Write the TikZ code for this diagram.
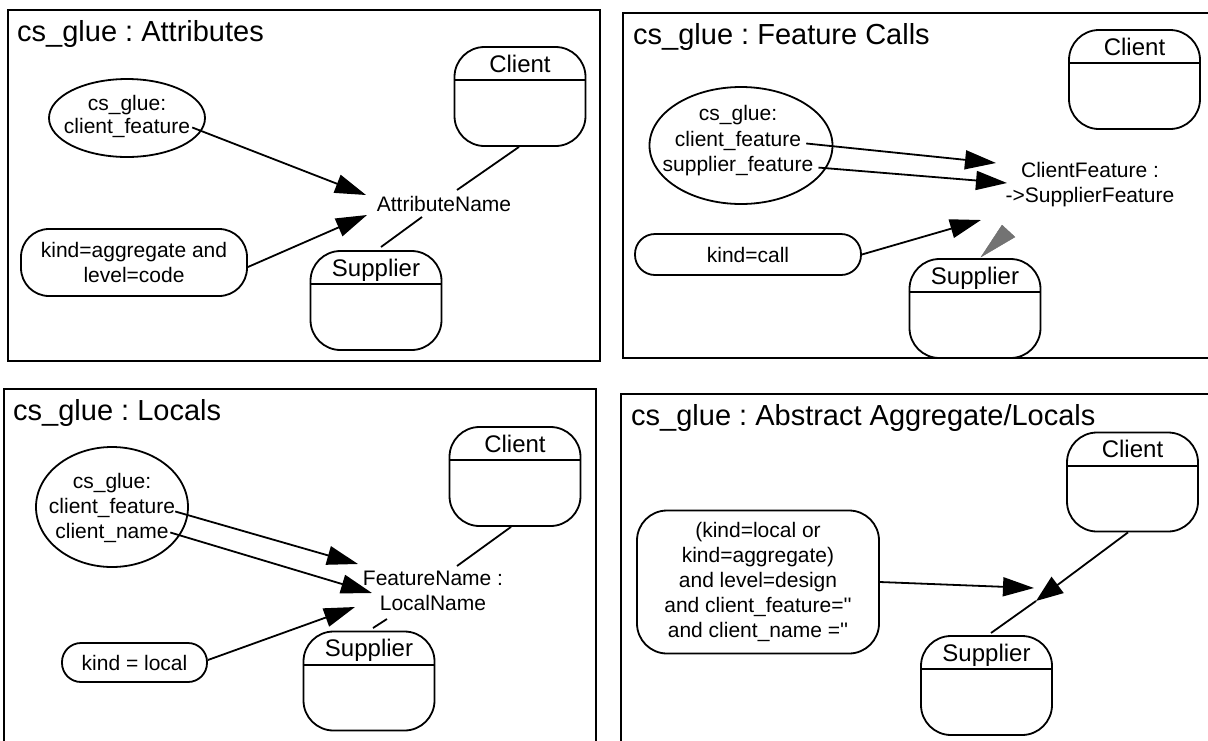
\documentclass[tikz,border=0pt]{standalone}
\usepackage{fontspec}
\setmainfont{Liberation Sans}
\usetikzlibrary{arrows.meta,shapes.geometric}
\tikzset{
  frame/.style={draw, line width=2pt},
  cls/.style={draw, line width=1.8pt, rounded corners=30pt, minimum width=131pt, minimum height=99pt, inner sep=0pt},
  divl/.style={line width=1.8pt},
  clsname/.style={inner sep=0pt, anchor=base, font=\fontsize{24}{28}\selectfont},
  title/.style={inner sep=0pt, anchor=base west, font=\fontsize{29}{34}\selectfont},
  txt/.style={inner sep=0pt, font=\fontsize{21}{25}\selectfont},
  lbl/.style={inner sep=0pt, align=center, font=\fontsize{21}{25}\selectfont},
  cond/.style={draw, line width=1.8pt, inner sep=0pt, align=center, font=\fontsize{21}{25}\selectfont},
  ell/.style={draw, ellipse, line width=1.8pt, inner sep=0pt},
  arr/.style={line width=1.8pt, -{Triangle[length=31pt,width=19pt]}},
  ln/.style={line width=1.8pt},
  wedge/.style={fill=black!55, draw=black!60, line width=0.3pt},
}
\newcommand\myclassbox[4]{%
  \node[cls] (#1) at (#2,#3) {};
  \draw[divl] ([yshift=-34pt]#1.north west) -- ([yshift=-34pt]#1.north east);
  \node[clsname] (#1-name) at ([yshift=-26pt]#1.north) {#4};
}
\begin{document}
\frenchspacing
\begin{tikzpicture}[x=1pt,y=-1pt]
\useasboundingbox (0,0) rectangle (1208,740);
\clip (0,0) rectangle (1208,740);

% ---------------- Panel 1 : Attributes ----------------
\draw[frame] (8,10) rectangle (600,361);
\node[title] (t1) at (17,41) {cs\_glue : Attributes};
\node[ell, minimum width=156pt, minimum height=78pt] (e1) at (127,118) {};
\node[txt, anchor=base] (e1a) at (127,110) {cs\_glue:};
\node[txt, anchor=base] (e1b) at (127,133) {client\_feature};
\node[cond, rounded corners=28pt, minimum width=226pt, minimum height=67pt] (k1) at (134,262.5) {kind=aggregate and\\level=code};
\node[txt, anchor=base] (a1) at (444,211) {AttributeName};
\myclassbox{c1}{520}{96.5}{Client}
\myclassbox{s1}{376}{300.5}{Supplier}
\coordinate (a1p) at (366,195);
\coordinate (a1q) at (367,215);
\coordinate (a1c) at (457,190);
\coordinate (a1s) at (422,217);
\coordinate (s1t) at (381,247);
\draw[arr] ([xshift=2pt]e1b.east) -- (a1p);
\draw[arr] ([yshift=-4.5pt]k1.east) -- (a1q);
\draw[ln] ([xshift=-1pt]c1.south) -- (a1c);
\draw[ln] (s1t) -- (a1s);

% ---------------- Panel 2 : Feature Calls ----------------
\draw[frame] (623,13) rectangle (1214,358);
\node[title] (t2) at (633,44) {cs\_glue : Feature Calls};
\node[ell, minimum width=183pt, minimum height=117pt] (e2) at (741,145.5) {};
\node[txt, anchor=base] (e2a) at (738,120) {cs\_glue:};
\node[txt, anchor=base] (e2b) at (738,146) {client\_feature};
\node[txt, anchor=base] (e2c) at (738,171) {supplier\_feature};
\node[cond, rounded corners=20pt, minimum width=226pt, minimum height=41pt] (k2) at (748,254.5) {kind=call};
\node[lbl] (a2) at (1090,185) {ClientFeature :\\->SupplierFeature};
\myclassbox{c2}{1134.5}{79.5}{Client}
\myclassbox{s2}{975}{308.5}{Supplier}
\coordinate (a2p) at (996,163);
\coordinate (a2q) at (1007,183);
\coordinate (a2r) at (981,220);
\draw[arr] ([xshift=5pt,yshift=-3pt]e2b.east) -- (a2p);
\draw[arr] ([xshift=5pt,yshift=-2pt]e2c.east) -- (a2q);
\draw[arr] (k2.east) -- (a2r);
\coordinate (w2a) at (981,257);
\coordinate (w2b) at (1002,225);
\coordinate (w2c) at (1015,237);
\path[wedge] (w2a) -- (w2b) -- (w2c) -- cycle;

% ---------------- Panel 3 : Locals ----------------
\draw[frame] (4,389) rectangle (596,750);
\node[title] (t3) at (13,420) {cs\_glue : Locals};
\node[ell, minimum width=152pt, minimum height=120pt] (e3) at (112,507) {};
\node[txt, anchor=base] (e3a) at (112,488) {cs\_glue:};
\node[txt, anchor=base] (e3b) at (112,513) {client\_feature};
\node[txt, anchor=base] (e3c) at (112,538) {client\_name};
\node[cond, rounded corners=19pt, minimum width=145pt, minimum height=39pt] (k3) at (134.5,662.5) {kind = local};
\node[lbl] (a3) at (433,591.3) {FeatureName :\\LocalName};
\myclassbox{c3}{515}{476.5}{Client}
\myclassbox{s3}{369}{681}{Supplier}
\coordinate (a3p) at (358,564);
\coordinate (a3q) at (372,593);
\coordinate (a3r) at (355,607);
\coordinate (a3c) at (457,566);
\coordinate (a3s) at (387,619);
\coordinate (s3t) at (373,628);
\draw[arr] ([yshift=-4pt]e3b.east) -- (a3p);
\draw[arr] ([xshift=1.5pt]e3c.east) -- (a3q);
\draw[arr] ([yshift=2.5pt]k3.east) -- (a3r);
\draw[ln] ([xshift=-4pt]c3.south) -- (a3c);
\draw[ln] (s3t) -- (a3s);

% ---------------- Panel 4 : Abstract Aggregate/Locals ----------------
\draw[frame] (621,394) rectangle (1214,750);
\node[title] (t4) at (631,425) {cs\_glue : Abstract Aggregate/Locals};
\node[cond, rounded corners=30pt, minimum width=242pt, minimum height=143pt] (k4) at (758,582) {(kind=local or\\kind=aggregate)\\and level=design\\and client\_feature=\textquotesingle\textquotesingle\\and client\_name =\textquotesingle\textquotesingle};
\myclassbox{c4}{1132.5}{482}{Client}
\myclassbox{s4}{986.5}{685.5}{Supplier}
\coordinate (a4p) at (1034,588);
\coordinate (m4) at (1036,601);
\coordinate (s4t) at (991,633);
\draw[arr] (k4.east) -- (a4p);
\draw[line width=1.8pt, -{Triangle[length=27pt,width=20pt]}] ([xshift=-4.5pt]c4.south) -- (m4);
\draw[ln] (m4) -- (s4t);
\end{tikzpicture}
\end{document}
